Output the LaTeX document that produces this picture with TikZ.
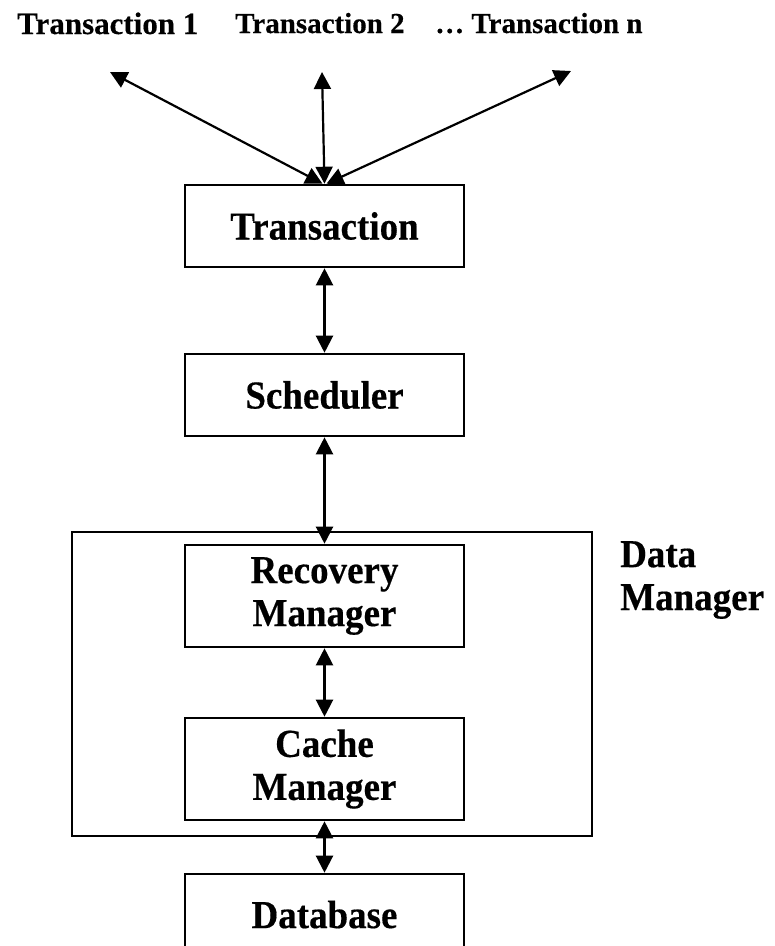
\documentclass[tikz,border=0pt]{standalone}
\usepackage{fontspec}
\usepackage{graphicx}
\setmainfont{Liberation Serif}[BoldFeatures={FakeBold=0.4}]
\usetikzlibrary{arrows.meta}
% slightly taller lettering for the component labels
\newcommand{\tall}[1]{\scalebox{1}[1.07]{#1}}
\begin{document}
\begin{tikzpicture}[x=1pt,y=-1pt,
  box/.style={draw, line width=2.6pt, minimum width=279pt, inner sep=0pt,
    font=\fontsize{37}{43}\selectfont\bfseries, align=center},
  link/.style={{Triangle[length=17pt,width=17pt]}-{Triangle[length=17pt,width=17pt]},
    line width=2.2pt},
  toplabel/.style={anchor=base west, inner sep=0pt}]
\useasboundingbox (0,0) rectangle (775,946);

% transaction labels along the top
\node[toplabel, font=\fontsize{31}{36}\selectfont\bfseries] (t1) at (17,34) {Transaction 1};
\node[toplabel, font=\fontsize{29}{34}\selectfont\bfseries] (t2) at (235,33) {Transaction 2};
\node[toplabel, font=\fontsize{29}{34}\selectfont\bfseries] (tn) at (435,33) {\ldots{} Transaction n};

% free ends of the three transaction arrows
\coordinate (e1) at (110,72);
\coordinate (e2) at (322,72);
\coordinate (en) at (571,71);

% stack of components
\node[box, minimum height=82pt] (trans) at (324.5,226) {\tall{Transaction}};
\node[box, minimum height=82pt] (sched) at (324.5,395) {\tall{Scheduler}};
\node[draw, line width=2.6pt, minimum width=520pt, minimum height=304pt, inner sep=0pt] (dm) at (332,684) {};
\node[box, minimum height=102pt] (recov) at (324.5,596) {\tall{Recovery}\\\tall{Manager}};
\node[box, minimum height=102pt] (cache) at (324.5,769) {\tall{Cache}\\\tall{Manager}};
\node[box, minimum height=81pt] (db) at (324.5,914.5) {\tall{Database}};

\node[anchor=north west, inner sep=0pt, align=left,
  font=\fontsize{37}{43}\selectfont\bfseries] (dmlabel) at (620,541) {\tall{Data}\\\tall{Manager}};

% connectors
\draw[link] ([xshift=-2pt]trans.north) -- (e1);
\draw[link] (trans.north) -- (e2);
\draw[link] ([xshift=2pt]trans.north) -- (en);
\draw[link] (trans.south) -- (sched.north);
\draw[link] (sched.south) -- (recov.north);
\draw[link] (recov.south) -- (cache.north);
\draw[link] (cache.south) -- (db.north);
\end{tikzpicture}
\end{document}
